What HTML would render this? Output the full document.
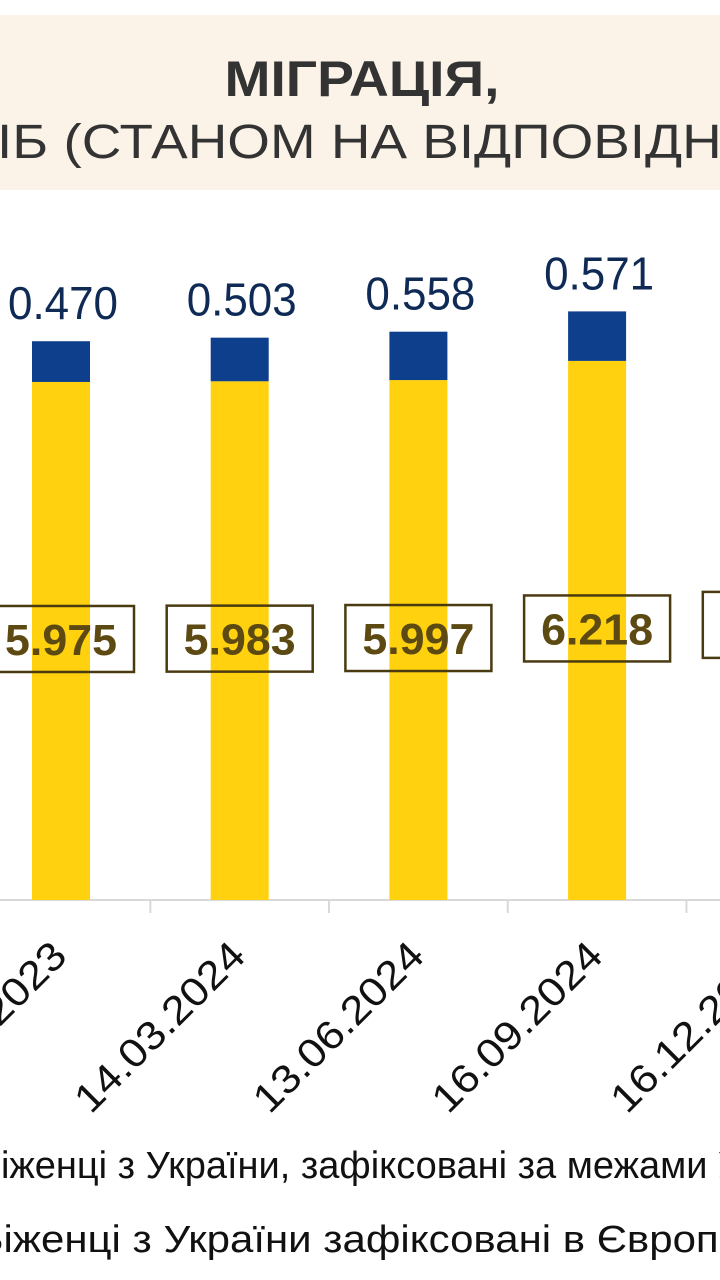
<!DOCTYPE html>
<html><head><meta charset="utf-8">
<style>
html,body{margin:0;padding:0;background:#fff;}
svg{display:block;font-family:"Liberation Sans",sans-serif;}
</style></head>
<body>
<svg id="chart" width="720" height="1280" viewBox="0 0 720 1280">
  <rect x="0" y="15" width="720" height="175" fill="#fbf3e8"/>
  <text x="362" y="96" text-anchor="middle" font-size="50" font-weight="bold" fill="#333" textLength="275" lengthAdjust="spacingAndGlyphs">МІГРАЦІЯ,</text>
  <text x="-3" y="158" text-anchor="end" font-size="48" fill="#333">МЛН ОС</text>
  <text x="-3" y="158" font-size="48" fill="#333" textLength="740" lengthAdjust="spacingAndGlyphs">ІБ (СТАНОМ НА ВІДПОВІДНІ</text>
  <g id="plot"></g>
  <text x="-24" y="1178" font-size="38" fill="#111">Біженці з України, зафіксовані за межами України</text>
  <text x="-24" y="1252" font-size="38" fill="#111" textLength="752" lengthAdjust="spacingAndGlyphs">Біженці з України зафіксовані в Європі</text>
</svg>
<script>
const categories = ["14.12.2023","14.03.2024","13.06.2024","16.09.2024","16.12.2024"];
const europeValues = [5.975, 5.983, 5.997, 6.218, 6.3];
const otherValues = [0.470, 0.503, 0.558, 0.571, 0.6];
const europeLabels = ["5.975","5.983","5.997","6.218","6.300"];
const otherLabels = ["0.470","0.503","0.558","0.571","0.600"];

const NS = "http://www.w3.org/2000/svg";
const plot = document.getElementById("plot");
const baseY = 900, pxPerUnit = 86.7, x0 = 61, step = 178.7, barW = 58;
function yScale(v){ return baseY - v * pxPerUnit; }
function xCenter(i){ return x0 + i * step; }
function mk(tag, attrs){ const e = document.createElementNS(NS, tag); for (const k in attrs) e.setAttribute(k, attrs[k]); plot.appendChild(e); return e; }

const axis = mk("line", {x1:0, x2:720, y1:baseY, y2:baseY, stroke:"#d9d9d9", "stroke-width":2});



categories.forEach((c, i) => {
  const cx = xCenter(i);
  const yTop = yScale(europeValues[i]);
  const bTop = yScale(europeValues[i] + otherValues[i]);
  const y = mk("rect", {x:cx - barW/2, y:yTop, width:barW, height:baseY - yTop, fill:"#ffd10f"});
  
  
  const b = mk("rect", {x:cx - barW/2, y:bTop, width:barW, height:yTop - bTop, fill:"#0d3f8c"});
  
  
  const t = mk("text", {x:cx + 2, y:bTop - 22, "text-anchor":"middle", "font-size":46, fill:"#0e2a55", textLength:110, lengthAdjust:"spacingAndGlyphs"});
  t.textContent = otherLabels[i];
  
  
  const mid = (yTop + baseY) / 2 - 2;
  const box = mk("rect", {x:cx - 73, y:mid - 33, width:146, height:66, fill:"none", stroke:"#4a3a10", "stroke-width":2.5});
  
  
  const vt = mk("text", {x:cx, y:mid + 16, "text-anchor":"middle", "font-size":44, "font-weight":"bold", fill:"#5c4a12", textLength:112, lengthAdjust:"spacingAndGlyphs"});
  vt.textContent = europeLabels[i];
  
  
  const tk = mk("line", {x1:cx - step/2, x2:cx - step/2, y1:baseY, y2:baseY + 13, stroke:"#d9d9d9", "stroke-width":2});
  
  
  const lx = cx + 8, ly = 958;
  const lab = mk("text", {x:lx, y:ly, "text-anchor":"end", "font-size":40, fill:"#111", transform:"rotate(-45 " + lx + " " + ly + ")", textLength:222, lengthAdjust:"spacingAndGlyphs"});
  lab.textContent = c;
  
  
});
</script>
</body></html>
